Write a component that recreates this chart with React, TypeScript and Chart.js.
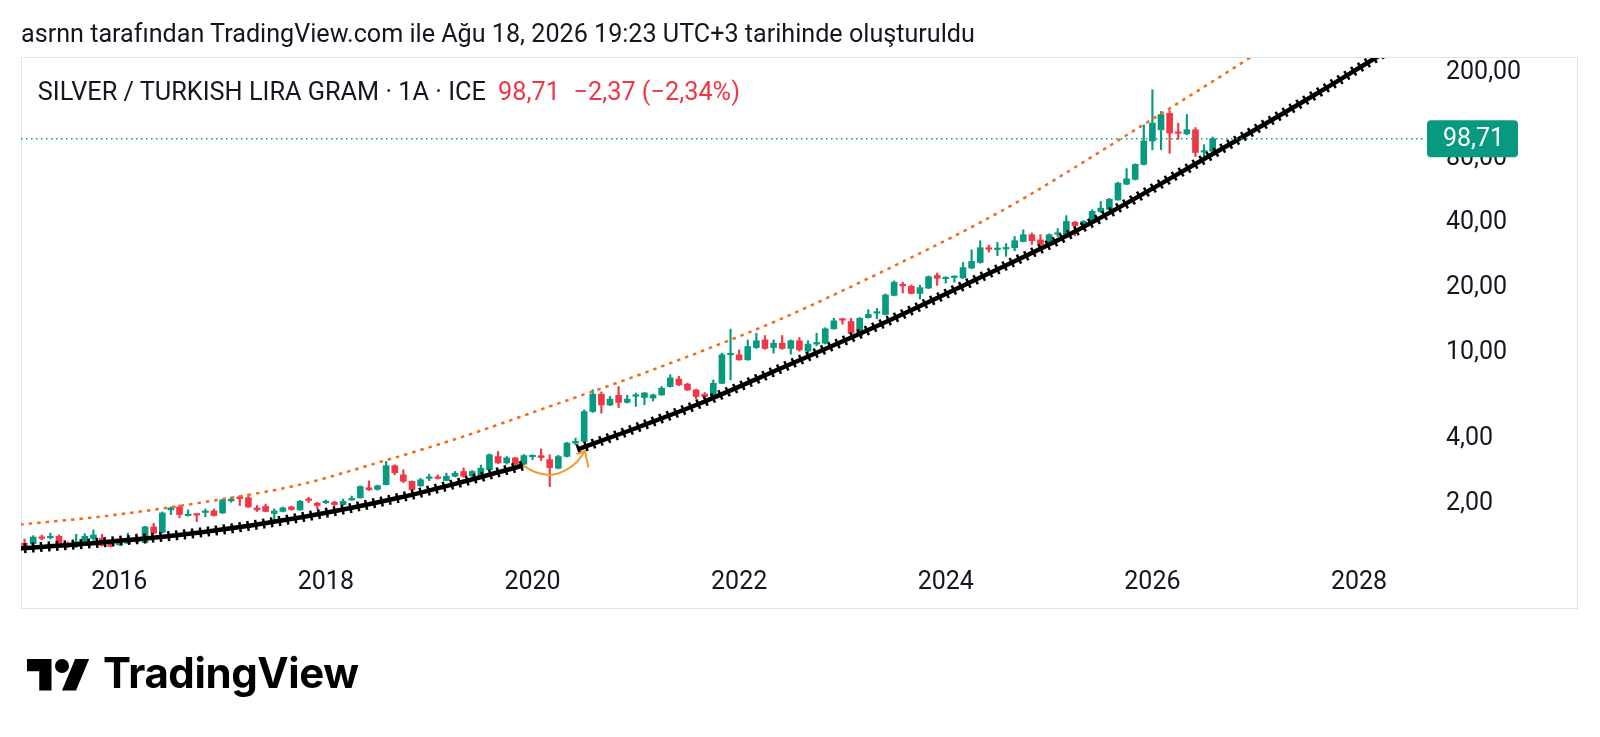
import React, { useEffect, useRef } from 'react';
import { Chart, registerables } from 'chart.js';

Chart.register(...registerables);

// Monthly candles. Month numbers count from Jan 2015 = 0; first candle is Feb 2015.
const FIRST_MONTH = 1;

const opens = [
  1.31, 1.30, 1.40, 1.39, 1.41, 1.31, 1.27, 1.34, 1.38, 1.38, 1.30,
  1.29, 1.31, 1.38, 1.32, 1.56, 1.47, 1.87, 1.93, 1.76, 1.78, 1.82, 1.85,
  1.81, 2.06, 2.15, 2.13, 1.91, 1.94, 1.80, 1.84, 1.93, 1.87, 2.09, 2.01,
  2.02, 2.03, 1.98, 2.08, 2.13, 2.37, 2.33, 2.45, 3.00, 2.72, 2.54, 2.42,
  2.62, 2.65, 2.56, 2.68, 2.82, 2.69, 2.70, 2.87, 3.31, 3.09, 3.26, 3.05,
  3.30, 3.34, 3.20, 2.92, 3.31, 3.82, 3.89, 5.35, 6.44, 5.74, 6.36, 5.90,
  6.30, 6.22, 6.18, 6.39, 6.99, 7.57, 7.17, 6.74, 6.44, 6.28, 7.23, 9.81,
  9.81, 9.30, 10.6, 11.5, 10.6, 11.1, 10.5, 11.4, 10.2, 11.0, 11.1, 12.95,
  14.4, 14.0, 12.05, 14.6, 15.3, 15.1, 18.5, 20.6, 20.4, 18.9, 20.0, 22.9,
  22.1, 22.4, 22.3, 24.8, 26.3, 30.6, 30.2, 30.4, 30.8, 32.9, 35.4, 33.5,
  31.7, 35.6, 35.4, 40.4, 39.4, 40.5, 45.3, 46.4, 51.3, 60.7, 63.9, 75.0,
  96.4, 108.5, 129.5, 105.5, 103.9, 108.6, 85.5, 86.3,
];
const highs = [
  1.37, 1.42, 1.43, 1.46, 1.43, 1.33, 1.44, 1.45, 1.51, 1.44, 1.33,
  1.36, 1.46, 1.45, 1.57, 1.62, 1.83, 1.93, 1.97, 1.87, 1.79, 1.89, 1.89,
  2.10, 2.14, 2.18, 2.21, 1.96, 1.99, 1.89, 1.93, 1.95, 2.07, 2.14, 2.03,
  2.08, 2.05, 2.10, 2.17, 2.42, 2.55, 2.44, 3.14, 3.03, 2.87, 2.55, 2.62,
  2.74, 2.72, 2.77, 2.82, 2.93, 2.85, 3.02, 3.40, 3.49, 3.31, 3.28, 3.38,
  3.37, 3.59, 3.37, 3.35, 3.85, 4.03, 5.45, 6.75, 6.60, 6.30, 6.99, 6.37,
  6.52, 6.57, 6.45, 6.99, 7.93, 7.79, 7.25, 6.80, 6.55, 7.50, 9.98, 12.9,
  10.34, 11.5, 12.35, 12.05, 11.5, 12.05, 11.5, 11.8, 11.4, 12.35, 13.1, 14.5,
  14.5, 14.5, 14.6, 15.9, 16.1, 18.8, 21.6, 21.3, 20.7, 20.6, 22.8, 23.5,
  22.6, 22.8, 26.3, 30.1, 33.2, 31.7, 32.6, 32.2, 34.7, 37.3, 36.0, 35.4,
  35.7, 37.8, 43.4, 40.8, 41.2, 46.2, 50.5, 52.2, 62.0, 71.7, 75.5, 114.3,
  166.5, 132.0, 133.3, 116.5, 127.8, 111.2, 92.6, 100.5,
];
const lows = [
  1.25, 1.28, 1.36, 1.37, 1.30, 1.25, 1.25, 1.33, 1.35, 1.27, 1.26,
  1.28, 1.30, 1.32, 1.31, 1.45, 1.46, 1.78, 1.72, 1.75, 1.65, 1.74, 1.75,
  1.80, 2.03, 1.96, 1.92, 1.84, 1.83, 1.65, 1.83, 1.86, 1.86, 2.02, 1.89,
  2.00, 1.96, 1.96, 2.07, 2.12, 2.30, 2.31, 2.44, 2.72, 2.50, 2.30, 2.40,
  2.56, 2.60, 2.55, 2.66, 2.65, 2.66, 2.68, 2.85, 3.07, 3.05, 3.03, 3.03,
  3.20, 3.17, 2.40, 2.90, 3.29, 3.75, 3.85, 5.30, 5.26, 5.70, 5.58, 5.85,
  5.65, 5.75, 5.99, 6.35, 6.95, 7.05, 6.70, 6.13, 6.20, 6.25, 7.20, 7.50,
  9.25, 9.25, 10.5, 10.4, 9.98, 10.4, 9.87, 10.2, 9.98, 10.8, 11.0, 12.9,
  13.6, 12.3, 12.0, 14.5, 14.4, 15.0, 18.4, 19.0, 18.8, 17.8, 19.9, 20.6,
  21.1, 21.3, 22.2, 24.6, 26.1, 29.4, 28.3, 28.1, 29.8, 32.8, 31.9, 31.5,
  31.4, 34.7, 35.2, 35.0, 39.0, 40.3, 44.7, 46.0, 51.1, 60.3, 63.5, 74.5,
  87.7, 87.7, 84.5, 98.0, 103.0, 81.6, 80.9, 85.5,
];
const closes = [
  1.28, 1.40, 1.38, 1.41, 1.31, 1.28, 1.33, 1.41, 1.43, 1.28, 1.27,
  1.33, 1.36, 1.33, 1.56, 1.46, 1.81, 1.91, 1.78, 1.78, 1.77, 1.84, 1.76,
  2.08, 2.10, 2.11, 1.93, 1.87, 1.84, 1.85, 1.91, 1.88, 2.05, 2.07, 1.96,
  2.04, 1.98, 2.05, 2.10, 2.40, 2.32, 2.42, 3.00, 2.78, 2.54, 2.32, 2.58,
  2.65, 2.62, 2.68, 2.77, 2.68, 2.82, 2.92, 3.37, 3.09, 3.26, 3.05, 3.34,
  3.33, 3.27, 2.94, 3.31, 3.82, 3.89, 5.35, 6.44, 5.74, 6.11, 5.90, 6.11,
  6.37, 6.52, 6.39, 6.87, 7.67, 7.12, 6.74, 6.28, 6.28, 7.23, 9.81, 9.95,
  9.30, 10.72, 11.4, 10.5, 11.1, 10.5, 11.4, 10.34, 11.0, 11.2, 12.95, 14.1,
  14.2, 12.35, 14.5, 15.1, 15.5, 18.6, 21.3, 20.5, 18.9, 20.1, 22.6, 22.2,
  22.3, 22.6, 24.9, 26.6, 30.8, 30.3, 30.4, 30.8, 33.2, 35.4, 33.2, 31.9,
  35.4, 36.0, 40.8, 39.0, 40.8, 45.4, 47.0, 51.7, 61.4, 64.3, 75.0, 96.4,
  116.5, 127.8, 104.9, 104.5, 108.6, 85.2, 86.5, 98.71,
];

// Drawn curves (month, price)
const upperCurveMonths = [0.5, 9.8, 21.4, 33.0, 42.3, 51.6, 62.0, 72.5, 82.5, 88.7, 100.4, 112.0, 117.4, 128.2, 143.0, 148.0];
const upperCurveValues = [1.60, 1.74, 2.02, 2.45, 3.12, 4.05, 5.65, 7.95, 11.3, 14.3, 23.6, 40.3, 53.2, 97.9, 230, 310];

const supportAMonths = [0, 9.8, 21.4, 33.0, 44.6, 51.6, 58.9];
const supportAValues = [1.235, 1.32, 1.469, 1.724, 2.135, 2.506, 3.006];
const supportBMonths = [65.2, 72.5, 80.0, 88.8, 100.4, 112.0, 123.0, 138.1, 151.5, 157.6, 160.7];
const supportBValues = [3.566, 4.559, 5.956, 8.475, 13.56, 22.4, 36.63, 79.91, 163.5, 230.1, 273.1];

const arcMonths = [58.9, 60.3, 62.0, 63.8, 65.2, 66.1];
const arcValues = [3.006, 2.804, 2.716, 2.85, 3.137, 3.509];
const arrowMonths = [65.1, 66.1, 66.5];
const arrowValues = [3.392, 3.509, 2.943];

const yearTickMonths = [12, 36, 60, 84, 108, 132, 156];
const yearTickLabels = ['2016', '2018', '2020', '2022', '2024', '2026', '2028'];
const priceTicks = [2, 4, 10, 20, 40, 80, 200];
const priceTickLabels = ['2,00', '4,00', '10,00', '20,00', '40,00', '80,00', '200,00'];

const LAST_PRICE = 98.71;
const X_MIN = 0.59;
const X_MAX = 163.66;
const Y_MIN = 1.1429;
const Y_MAX = 233.8;

const TITLE = 'asrnn tarafından TradingView.com ile Ağu 18, 2026 19:23 UTC+3 tarihinde oluşturuldu';
const SYMBOL = 'SILVER / TURKISH LIRA GRAM · 1A · ICE';
const PRICE_TEXT = '98,71';
const CHANGE_TEXT = '−2,37 (−2,34%)';

const UP = '#089981';
const DOWN = '#F23645';
const TEXT = '#131722';

function pts(xs: number[], ys: number[]) {
  return xs.map((x, i) => ({ x, y: ys[i] }));
}

const overlayPlugin = {
  id: 'tvOverlay',
  beforeDraw(chart: any) {
    const { ctx } = chart;
    ctx.save();
    ctx.fillStyle = '#ffffff';
    ctx.fillRect(0, 0, chart.width, chart.height);
    ctx.strokeStyle = '#E0E3EB';
    ctx.lineWidth = 1;
    ctx.strokeRect(21.5, 57.5, 1556, 551);
    ctx.restore();
  },
  afterDraw(chart: any) {
    const { ctx, chartArea, scales } = chart;
    const y = scales.y.getPixelForValue(LAST_PRICE);
    ctx.save();
    ctx.strokeStyle = UP;
    ctx.lineWidth = 1.5;
    ctx.setLineDash([1.5, 3.5]);
    ctx.beginPath();
    ctx.moveTo(chartArea.left, y);
    ctx.lineTo(1423, y);
    ctx.stroke();
    ctx.setLineDash([]);
    ctx.fillStyle = UP;
    ctx.beginPath();
    if (ctx.roundRect) ctx.roundRect(1427, y - 18.5, 91, 37, 4);
    else ctx.rect(1427, y - 18.5, 91, 37);
    ctx.fill();
    ctx.fillStyle = '#ffffff';
    ctx.font = '25px Roboto';
    ctx.textAlign = 'left';
    ctx.textBaseline = 'middle';
    ctx.fillText(LAST_PRICE.toFixed(2).replace('.', ','), 1443, y + 1);
    ctx.restore();
  },
};

export default function App() {
  const ref = useRef<HTMLCanvasElement>(null);

  useEffect(() => {
    const canvas = ref.current;
    if (!canvas) return;
    const months = opens.map((_, i) => FIRST_MONTH + i);
    const colors = opens.map((o, i) => (closes[i] >= o ? UP : DOWN));
    const lineBase: any = {
      type: 'line',
      pointRadius: 0,
      fill: false,
      cubicInterpolationMode: 'monotone',
      clip: 0,
    };
    const chart = new Chart(canvas, {
      type: 'bar',
      data: {
        datasets: [
          { ...lineBase, label: 'Üst eğri', data: pts(upperCurveMonths, upperCurveValues), borderColor: '#F26B1D', borderWidth: 2.5, borderDash: [3.5, 5], order: 5 },
          { ...lineBase, label: 'Destek 1 kenar', data: pts(supportAMonths, supportAValues), borderColor: '#000000', borderWidth: 10, borderDash: [2.5, 5.5], order: 4 },
          { ...lineBase, label: 'Destek 1', data: pts(supportAMonths, supportAValues), borderColor: '#000000', borderWidth: 4.5, order: 3 },
          { ...lineBase, label: 'Destek 2 kenar', data: pts(supportBMonths, supportBValues), borderColor: '#000000', borderWidth: 10, borderDash: [2.5, 5.5], order: 4 },
          { ...lineBase, label: 'Destek 2', data: pts(supportBMonths, supportBValues), borderColor: '#000000', borderWidth: 4.5, order: 3 },
          { ...lineBase, label: 'Yay', data: pts(arcMonths, arcValues), borderColor: '#F39A2B', borderWidth: 2, order: 1 },
          { ...lineBase, label: 'Ok', data: pts(arrowMonths, arrowValues), borderColor: '#F39A2B', borderWidth: 2, cubicInterpolationMode: 'default', tension: 0, order: 1 },
          {
            type: 'bar', label: 'Fitil',
            data: months.map((m, i) => ({ x: m, y: [lows[i], highs[i]] })) as any,
            backgroundColor: colors, barThickness: 1.5, grouped: false, order: 11,
          },
          {
            type: 'bar', label: 'Gövde',
            data: months.map((m, i) => ({ x: m, y: [opens[i], closes[i]] })) as any,
            backgroundColor: colors, barThickness: 6, grouped: false, minBarLength: 1.5, order: 10,
          },
        ] as any,
      },
      options: {
        responsive: false,
        devicePixelRatio: 1,
        animation: false,
        events: [],
        layout: { padding: { left: 21, top: 58, right: 0, bottom: 0 } },
        plugins: { legend: { display: false }, tooltip: { enabled: false }, title: { display: false } },
        scales: {
          x: {
            type: 'linear',
            position: 'bottom',
            min: X_MIN,
            max: X_MAX,
            bounds: 'data',
            offset: false,
            grid: { display: false, drawTicks: false },
            border: { display: false },
            afterBuildTicks: (s: any) => { s.ticks = yearTickMonths.map((v) => ({ value: v })); },
            afterFit: (s: any) => { s.height = 181; },
            ticks: {
              autoSkip: false, maxRotation: 0, padding: 12, color: TEXT,
              font: { family: 'Roboto', size: 25 },
              callback: (v: any) => { const k = yearTickMonths.indexOf(Number(v)); return k >= 0 ? yearTickLabels[k] : ''; },
            },
          },
          y: {
            type: 'logarithmic',
            position: 'right',
            min: Y_MIN,
            max: Y_MAX,
            bounds: 'data',
            grid: { display: false, drawTicks: false },
            border: { display: false },
            afterBuildTicks: (s: any) => { s.ticks = priceTicks.map((v) => ({ value: v })); },
            afterFit: (s: any) => { s.width = 175; },
            ticks: {
              autoSkip: false, padding: 21, color: TEXT,
              font: { family: 'Roboto', size: 25 },
              callback: (v: any) => { const k = priceTicks.indexOf(Number(v)); return k >= 0 ? priceTickLabels[k] : ''; },
            },
          },
        },
      } as any,
      plugins: [overlayPlugin],
    });
    return () => chart.destroy();
  }, []);

  const textStyle: React.CSSProperties = {
    position: 'absolute', whiteSpace: 'nowrap', font: '400 25.3px/25px Roboto', color: TEXT,
  };

  return (
    <div style={{ position: 'fixed', left: 0, top: 0, width: 1600, height: 737, background: '#ffffff', overflow: 'hidden' }}>
      <canvas ref={ref} width={1600} height={737} style={{ position: 'absolute', left: 0, top: 0, width: 1600, height: 737 }} />
      <div style={{ ...textStyle, left: 21, top: 21, fontSize: '25.15px' }}>{TITLE}</div>
      <div style={{ ...textStyle, left: 37.8, top: 79 }}>{SYMBOL}</div>
      <div style={{ ...textStyle, left: 498, top: 79, color: DOWN }}>{PRICE_TEXT}</div>
      <div style={{ ...textStyle, left: 573.5, top: 79, color: DOWN }}>{CHANGE_TEXT}</div>
      <svg style={{ position: 'absolute', left: 26.7, top: 652 }} width={63} height={49} viewBox="0 0 36 28">
        <path d="M14 22H7V11H0V4h14v18zM28 22h-8l7.5-18h8L28 22z" fill="#000000" />
        <circle cx="20" cy="8" r="4" fill="#000000" />
      </svg>
      <div style={{ position: 'absolute', left: 103, top: 651.8, whiteSpace: 'nowrap', font: '700 42px/42px Inter', color: '#000000', letterSpacing: '-0.4px' }}>TradingView</div>
    </div>
  );
}
